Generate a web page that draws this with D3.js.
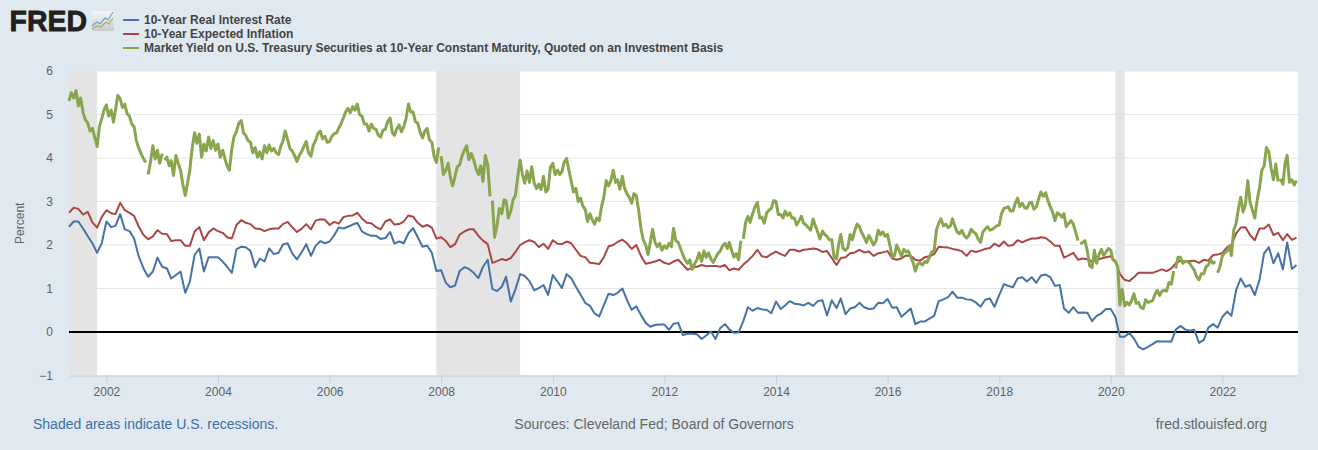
<!DOCTYPE html>
<html>
<head>
<meta charset="utf-8">
<script src="https://cdn.jsdelivr.net/npm/d3@7"></script>
<style>
    html, body { margin: 0; padding: 0; background: #e1e9f0; }
    svg { display: block; font-family: "Liberation Sans", Arial, sans-serif; }
    .domain { stroke: #c0d0e0; }
    .x-axis line { stroke: #c0d0e0; }
    .y-axis .domain { display: none; }
    .tick text { fill: #606060; font-size: 12px; }
    .legend-text { fill: #444; font-size: 12px; font-weight: bold; }
    .foot { font-size: 14px; fill: #666; }
</style>
</head>
<body>
<svg width="1318" height="450"></svg>
<script>
const seriesNames = [
    "10-Year Real Interest Rate",
    "10-Year Expected Inflation",
    "Market Yield on U.S. Treasury Securities at 10-Year Constant Maturity, Quoted on an Investment Basis"
];
const seriesColors = ["#4572a7", "#aa4643", "#89a54e"];
const seriesWidths = [2, 2, 3];
const yTicks = [-1, 0, 1, 2, 3, 4, 5, 6];
const xTickYears = [2002, 2004, 2006, 2008, 2010, 2012, 2014, 2016, 2018, 2020, 2022];
const recessions = [["2001-05-01", "2001-11-01"], ["2007-12-01", "2009-06-01"], ["2020-02-01", "2020-04-01"]];

// monthly, May 2001 to May 2023
const realRate = [
    2.42, 2.54, 2.54, 2.38, 2.2, 2.04, 1.82, 2.04,
    2.54, 2.41, 2.44, 2.71, 2.36, 2.32, 2.15, 1.73, 1.46, 1.27, 1.39, 1.71,
    1.5, 1.46, 1.23, 1.31, 1.39, 0.9, 1.16, 1.77, 1.92, 1.39, 1.72, 1.72,
    1.72, 1.62, 1.5, 1.36, 1.9, 1.96, 1.95, 1.86, 1.49, 1.69, 1.62, 1.92,
    1.79, 1.82, 2.01, 2.04, 1.81, 1.67, 1.83, 2.02, 1.75, 1.98, 2.09, 2.04,
    2.08, 2.23, 2.4, 2.38, 2.42, 2.47, 2.51, 2.31, 2.25, 2.21, 2.21, 2.14,
    2.16, 2.3, 2.03, 2.08, 2.04, 2.27, 2.39, 2.18, 1.96, 1.99, 1.82, 1.4,
    1.42, 1.13, 1.03, 1.07, 1.4, 1.49, 1.45, 1.36, 1.24, 1.5, 1.66, 0.99,
    0.94, 1.04, 1.27, 0.7, 0.98, 1.33, 1.29, 1.17, 0.96, 1.01, 1.08, 0.85,
    1.31, 1.16, 1.01, 1.33, 1.24, 1.04, 0.86, 0.67, 0.6, 0.43, 0.36, 0.62,
    0.88, 0.85, 0.9, 1.0, 0.74, 0.51, 0.59, 0.39, 0.21, 0.12, 0.16, 0.17,
    0.17, 0.05, 0.19, 0.21, -0.07, -0.04, -0.04, -0.05, -0.16, -0.08, 0.01, -0.16,
    0.09, 0.18, 0.06, -0.02, -0.01, 0.25, 0.57, 0.49, 0.55, 0.52, 0.51, 0.43,
    0.7, 0.53, 0.61, 0.71, 0.65, 0.64, 0.61, 0.67, 0.6, 0.71, 0.73, 0.38,
    0.73, 0.55, 0.77, 0.41, 0.54, 0.57, 0.67, 0.57, 0.53, 0.54, 0.67, 0.66,
    0.76, 0.56, 0.57, 0.35, 0.44, 0.54, 0.18, 0.24, 0.24, 0.31, 0.37, 0.71,
    0.75, 0.8, 0.93, 0.79, 0.79, 0.75, 0.74, 0.68, 0.58, 0.74, 0.77, 0.58,
    0.85, 1.1, 1.06, 1.03, 1.23, 1.26, 1.16, 1.26, 1.13, 1.3, 1.32, 1.26,
    1.06, 1.08, 0.54, 0.44, 0.57, 0.44, 0.45, 0.44, 0.25, 0.37, 0.43, 0.53,
    0.53, 0.34, -0.11, -0.11, -0.02, -0.15, -0.34, -0.4, -0.34, -0.28, -0.21, -0.22,
    -0.22, -0.22, 0.05, 0.14, 0.06, 0.03, 0.05, -0.25, -0.18, 0.1, 0.18, 0.1,
    0.35, 0.47, 0.37, 0.97, 1.23, 1.04, 1.08, 0.85, 1.2, 1.81, 1.95, 1.58,
    1.81, 1.44, 2.06, 1.45, 1.54
];
const expectedInflation = [
    2.74, 2.86, 2.83, 2.7, 2.76, 2.52, 2.4, 2.64,
    2.8, 2.73, 2.71, 2.97, 2.8, 2.74, 2.67, 2.42, 2.23, 2.13, 2.2, 2.34,
    2.26, 2.25, 2.09, 2.11, 2.11, 1.98, 1.98, 2.31, 2.41, 2.11, 2.29, 2.38,
    2.32, 2.28, 2.18, 2.15, 2.46, 2.57, 2.51, 2.48, 2.38, 2.37, 2.32, 2.36,
    2.38, 2.38, 2.48, 2.53, 2.41, 2.3, 2.37, 2.48, 2.36, 2.56, 2.59, 2.58,
    2.46, 2.53, 2.49, 2.64, 2.67, 2.68, 2.74, 2.61, 2.51, 2.5, 2.41, 2.36,
    2.54, 2.59, 2.47, 2.48, 2.54, 2.68, 2.65, 2.51, 2.42, 2.46, 2.4, 2.15,
    2.18, 2.09, 1.95, 2.02, 2.24, 2.31, 2.36, 2.36, 2.21, 2.1, 2.02, 1.59,
    1.63, 1.68, 1.65, 1.7, 1.84, 2.0, 2.06, 2.11, 2.07, 1.95, 2.03, 1.91,
    2.11, 2.03, 2.02, 2.08, 2.04, 1.89, 1.75, 1.72, 1.59, 1.58, 1.56, 1.72,
    1.97, 2.0, 2.07, 2.12, 2.04, 1.91, 2.0, 1.75, 1.57, 1.59, 1.62, 1.66,
    1.59, 1.56, 1.62, 1.66, 1.55, 1.43, 1.48, 1.5, 1.54, 1.51, 1.52, 1.52,
    1.5, 1.54, 1.42, 1.46, 1.43, 1.55, 1.64, 1.75, 1.89, 1.74, 1.72, 1.79,
    1.85, 1.79, 1.75, 1.89, 1.89, 1.85, 1.89, 1.9, 1.92, 1.9, 1.84, 1.86,
    1.7, 1.54, 1.7, 1.72, 1.81, 1.83, 1.89, 1.83, 1.85, 1.75, 1.81, 1.83,
    1.86, 1.69, 1.66, 1.69, 1.76, 1.75, 1.66, 1.64, 1.72, 1.74, 1.79, 1.96,
    1.95, 1.94, 1.91, 1.89, 1.86, 1.75, 1.87, 1.84, 1.87, 1.91, 1.93, 2.03,
    1.97, 2.08, 1.98, 2.0, 2.11, 2.06, 2.11, 2.15, 2.15, 2.18, 2.16, 2.08,
    1.98, 1.98, 1.71, 1.76, 1.82, 1.66, 1.69, 1.67, 1.62, 1.66, 1.69, 1.72,
    1.74, 1.62, 1.33, 1.2, 1.17, 1.26, 1.36, 1.36, 1.36, 1.36, 1.4, 1.44,
    1.4, 1.46, 1.58, 1.64, 1.62, 1.63, 1.64, 1.59, 1.66, 1.64, 1.77, 1.78,
    1.82, 1.95, 2.0, 2.27, 2.4, 2.41, 2.23, 2.11, 2.38, 2.38, 2.47, 2.23,
    2.28, 2.11, 2.25, 2.12, 2.17
];

// two readings a month, start and middle of the month
const yield2001 = [5.31,5.50, 5.38,5.55, 5.20,5.38, 5.05,4.88, 4.80,4.62, 4.68,4.48, 4.26,4.72, 4.90,5.10];
const yield2002 = [5.22,4.96, 5.10,4.82, 5.10,5.44, 5.36,5.16, 5.24,5.02, 4.96,4.78, 4.72,4.40, 4.22,4.10, 3.98,3.90, 3.62,3.90, 4.28,3.98, 4.18,3.88];
const yield2003 = [4.10,3.95, 4.02,3.82, 3.94,3.60, 4.06,3.88, 3.72,3.40, 3.14,3.42, 3.72,4.22, 4.58,4.34, 4.55,4.02, 4.32,4.16, 4.48,4.22, 4.40,4.18];
const yield2004 = [4.32,4.02, 4.18,3.98, 3.82,3.72, 4.22,4.50, 4.60,4.80, 4.86,4.58, 4.52,4.40, 4.36,4.12, 4.24,4.02, 4.14,3.98, 4.28,4.12, 4.30,4.16];
const yield2005 = [4.22,4.12, 4.08,4.28, 4.38,4.62, 4.42,4.22, 4.16,4.06, 3.92,4.06, 4.14,4.26, 4.38,4.12, 4.04,4.30, 4.40,4.56, 4.62,4.44, 4.50,4.36];
const yield2006 = [4.38,4.50, 4.56,4.58, 4.68,4.78, 4.92,5.06, 5.14,5.04, 5.18,5.10, 5.24,5.00, 4.96,4.78, 4.78,4.62, 4.78,4.68, 4.66,4.52, 4.48,4.64];
const yield2007 = [4.66,4.84, 4.92,4.58, 4.52,4.66, 4.76,4.60, 4.72,4.90, 5.24,5.06, 5.06,4.84, 4.80,4.60, 4.46,4.62, 4.68,4.42, 4.36,4.04, 3.90,4.24];
const yield2008 = [4.04,3.62, 3.72,3.88, 3.56,3.36, 3.58,3.80, 3.84,4.04, 4.18,4.28, 3.96,4.10, 3.96,3.76, 3.62,3.82, 3.46,4.06, 3.84,3.12, 3.02,2.18];
const yield2009 = [2.46,2.84, 2.72,3.04, 3.02,2.62, 2.78,3.04, 3.14,3.56, 3.95,3.62, 3.42,3.70, 3.44,3.80, 3.42,3.30, 3.40,3.28, 3.58,3.22, 3.28,3.78];
const yield2010 = [3.88,3.62, 3.72,3.62, 3.68,3.90, 3.99,3.72, 3.48,3.22, 3.30,3.00, 3.08,2.90, 2.82,2.54, 2.72,2.58, 2.48,2.62, 2.56,2.88, 3.10,3.48];
const yield2011 = [3.36,3.48, 3.72,3.44, 3.50,3.28, 3.58,3.30, 3.18,3.10, 2.96,3.18, 3.14,2.82, 2.38,2.12, 2.00,1.78, 2.06,2.36, 2.06,1.96, 2.04,1.88];
const yield2012 = [1.98,1.92, 2.04,1.96, 2.38,2.10, 2.06,1.92, 1.78,1.66, 1.58,1.66, 1.44,1.56, 1.66,1.82, 1.62,1.86, 1.72,1.82, 1.68,1.60, 1.70,1.80];
const yield2013 = [1.86,1.98, 2.04,1.92, 2.06,1.88, 1.72,1.80, 1.66,2.10, 2.14,2.52, 2.66,2.52, 2.72,2.88, 2.98,2.62, 2.64,2.50, 2.74,2.80, 2.84,3.02];
const yield2014 = [3.00,2.70, 2.70,2.62, 2.78,2.68, 2.74,2.62, 2.62,2.46, 2.56,2.66, 2.50,2.46, 2.40,2.34, 2.60,2.44, 2.30,2.14, 2.32,2.24, 2.20,2.12];
const yield2015 = [2.12,1.72, 1.68,2.04, 2.24,1.92, 1.88,1.94, 2.24,2.12, 2.34,2.48, 2.42,2.28, 2.18,2.06, 2.22,2.12, 2.00,2.08, 2.34,2.24, 2.30,2.20];
const yield2016 = [2.24,2.00, 1.72,1.76, 2.00,1.88, 1.74,1.90, 1.84,1.86, 1.72,1.60, 1.40,1.56, 1.58,1.54, 1.62,1.60, 1.72,1.84, 1.86,2.34, 2.50,2.60];
const yield2017 = [2.44,2.48, 2.40,2.44, 2.60,2.44, 2.30,2.26, 2.34,2.22, 2.16,2.22, 2.36,2.30, 2.26,2.14, 2.06,2.30, 2.36,2.42, 2.34,2.36, 2.40,2.44];
const yield2018 = [2.46,2.72, 2.84,2.86, 2.88,2.78, 2.78,2.96, 3.08,2.88, 2.96,2.86, 2.84,2.96, 2.98,2.82, 2.88,3.06, 3.22,3.12, 3.20,3.02, 2.88,2.76];
const yield2019 = [2.56,2.74, 2.70,2.64, 2.72,2.42, 2.50,2.56, 2.48,2.30, 2.10,2.02, 2.06,2.10, 1.86,1.52, 1.48,1.88, 1.58,1.78, 1.90,1.76, 1.84,1.92];
const yield2020 = [1.88,1.66, 1.62,1.50, 0.62,0.98, 0.60,0.68, 0.62,0.72, 0.88,0.66, 0.68,0.56, 0.54,0.74, 0.68,0.70, 0.72,0.86, 0.96,0.84, 0.94,0.96];
const yield2021 = [0.94,1.14, 1.10,1.40, 1.46,1.72, 1.72,1.58, 1.62,1.62, 1.58,1.50, 1.42,1.28, 1.20,1.34, 1.34,1.50, 1.54,1.66, 1.58,1.62, 1.36,1.50];
const yield2022 = [1.76,1.82, 1.86,1.98, 1.76,2.34, 2.50,2.84, 3.10,2.76, 2.94,3.48, 2.98,2.80, 2.62,3.02, 3.32,3.72, 3.82,4.24, 4.14,3.76, 3.50,3.86];
const yield2023 = [3.46,3.52, 3.40,3.90, 4.06,3.44, 3.50,3.38, 3.48];
const treasuryYield = [].concat(yield2001, yield2002, yield2003, yield2004, yield2005, yield2006, yield2007, yield2008,
    yield2009, yield2010, yield2011, yield2012, yield2013, yield2014, yield2015, yield2016, yield2017, yield2018,
    yield2019, yield2020, yield2021, yield2022, yield2023);
// missing days in the daily series, as positions in treasuryYield
const yieldGaps = [33, 40, 159, 181, 289, 434, 475, 493, 520];

const svg = d3.select("svg");
const plotLeft = 69, plotRight = 1298, plotTop = 71, plotBottom = 375.5;

const firstMonth = new Date(2001, 4, 1);
const x = d3.scaleTime()
    .domain([firstMonth, new Date(2023, 4, 1)])
    .range([plotLeft, 1296.5]);
const y = d3.scaleLinear().domain([-1, 6]).range([plotBottom, plotTop]);

// plot background
svg.append("rect")
    .attr("x", plotLeft).attr("y", plotTop)
    .attr("width", plotRight - plotLeft).attr("height", plotBottom - plotTop)
    .attr("fill", "#fff");

// grid
svg.append("g").selectAll("line")
    .data(yTicks.filter(t => t > -1 && t != 0))
    .enter().append("line")
    .attr("x1", plotLeft).attr("x2", plotRight)
    .attr("y1", d => y(d)).attr("y2", d => y(d))
    .attr("stroke", "#e6e6e6").attr("stroke-width", 1);

// recession bands
svg.append("g").selectAll("rect")
    .data(recessions)
    .enter().append("rect")
    .attr("x", d => x(new Date(d[0] + "T00:00")))
    .attr("y", plotTop)
    .attr("width", d => x(new Date(d[1] + "T00:00")) - x(new Date(d[0] + "T00:00")))
    .attr("height", plotBottom - plotTop)
    .attr("fill", "#e4e4e4");

// axes
svg.append("g")
    .attr("class", "y-axis")
    .attr("transform", `translate(${plotLeft - 16}, 0)`)
    .call(d3.axisLeft(y).tickValues(yTicks).tickSize(0).tickPadding(0).tickFormat(d3.format("d")));

svg.append("g")
    .attr("class", "x-axis")
    .attr("transform", `translate(0, ${plotBottom})`)
    .call(d3.axisBottom(x)
        .tickValues(xTickYears.map(yr => new Date(yr, 0, 1)))
        .tickSize(8).tickSizeOuter(0).tickPadding(4)
        .tickFormat(d3.timeFormat("%Y")));
svg.select(".x-axis .domain").attr("d", `M${plotLeft},0.5H${plotRight}`);

svg.append("text")
    .attr("transform", `translate(24, ${(plotTop + plotBottom) / 2}) rotate(-90)`)
    .attr("text-anchor", "middle")
    .attr("fill", "#606060")
    .attr("font-size", 12)
    .text("Percent");

// zero line
svg.append("line")
    .attr("x1", plotLeft).attr("x2", plotRight)
    .attr("y1", y(0)).attr("y2", y(0))
    .attr("stroke", "#000").attr("stroke-width", 2);

// lines
const lineGen = d3.line()
    .defined(d => d.v != null)
    .x(d => x(d.t))
    .y(d => y(d.v));

const monthly = vals => vals.map((v, i) => ({t: d3.timeMonth.offset(firstMonth, i), v: v}));

function halfMonthly(vals) {
    var pts = [];
    vals.forEach((v, i) => {
        var t = d3.timeMonth.offset(firstMonth, Math.floor(i / 2));
        if (i % 2) t = d3.timeDay.offset(t, 15);
        pts.push({t: t, v: v});
        if (yieldGaps.includes(i)) pts.push({t: t, v: null});
    });
    return pts;
}

const seriesPoints = [monthly(realRate), monthly(expectedInflation), halfMonthly(treasuryYield)];

svg.append("g").selectAll("path")
    .data(seriesPoints)
    .enter().append("path")
    .attr("d", lineGen)
    .attr("fill", "none")
    .attr("stroke", (d, i) => seriesColors[i])
    .attr("stroke-width", (d, i) => seriesWidths[i])
    .attr("stroke-linejoin", "round");

// legend
const legend = svg.append("g").selectAll("g")
    .data(seriesNames)
    .enter().append("g")
    .attr("transform", (d, i) => `translate(123, ${20 + i * 14})`);
legend.append("line")
    .attr("x1", 0).attr("x2", 16)
    .attr("stroke", (d, i) => seriesColors[i]).attr("stroke-width", 2);
legend.append("text")
    .attr("class", "legend-text")
    .attr("x", 21).attr("y", 4)
    .text(d => d);

// logo
svg.append("text")
    .attr("x", 9.5).attr("y", 30.5)
    .attr("font-size", 29.5).attr("font-weight", "bold")
    .attr("fill", "#231f20").attr("stroke", "#231f20").attr("stroke-width", 0.8)
    .attr("textLength", 77.5).attr("lengthAdjust", "spacingAndGlyphs")
    .text("FRED");
const logoGrad = svg.append("defs").append("linearGradient")
    .attr("id", "logoBg").attr("x1", 0).attr("y1", 0).attr("x2", 0).attr("y2", 1);
logoGrad.append("stop").attr("offset", 0).attr("stop-color", "#f4f6f8");
logoGrad.append("stop").attr("offset", 1).attr("stop-color", "#c9cdd0");
svg.append("rect")
    .attr("x", 92).attr("y", 11).attr("width", 22).attr("height", 20)
    .attr("fill", "url(#logoBg)");
svg.append("path")
    .attr("d", "M92,26 L97,22 L100,24 L105,18 L108,20 L113,12")
    .attr("fill", "none").attr("stroke", "#7f9fc0").attr("stroke-width", 1.2);
svg.append("path")
    .attr("d", "M92,29 L97,26 L101,27 L106,22 L109,24 L113,18")
    .attr("fill", "none").attr("stroke", "#9db36a").attr("stroke-width", 1.2);

// footer
svg.append("text").attr("class", "foot")
    .attr("x", 33).attr("y", 429).style("fill", "#3e6ea5")
    .text("Shaded areas indicate U.S. recessions.");
svg.append("text").attr("class", "foot")
    .attr("x", 654).attr("y", 429).attr("text-anchor", "middle")
    .text("Sources: Cleveland Fed; Board of Governors");
svg.append("text").attr("class", "foot")
    .attr("x", 1267).attr("y", 429).attr("text-anchor", "end")
    .text("fred.stlouisfed.org");
</script>
</body>
</html>
